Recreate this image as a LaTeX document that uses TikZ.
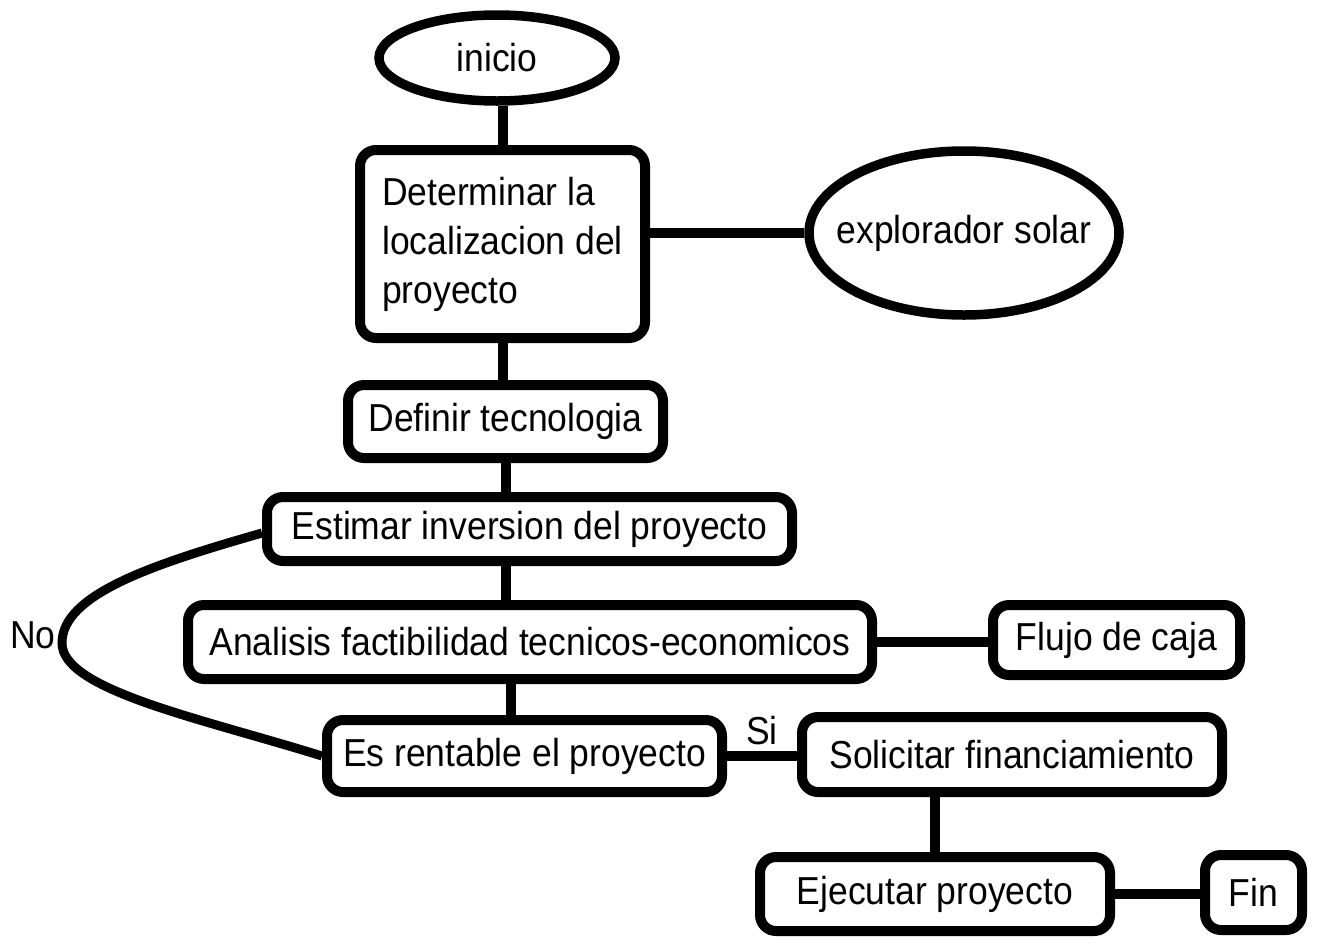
\documentclass[tikz,border=0pt]{standalone}
\usepackage{fontspec}
\setmainfont[FakeStretch=0.91]{Liberation Sans}
\usetikzlibrary{shapes.geometric}
\begin{document}
\begin{tikzpicture}[x=1pt,y=-1pt,
  every node/.style={font=\fontsize{39}{49}\selectfont, inner sep=0pt},
  box/.style={draw, line width=10pt, rounded corners=16pt, rectangle},
  oval/.style={draw, line width=9.5pt, ellipse},
  conn/.style={line width=10pt},
  lbl/.style={}]
\useasboundingbox (0,0) rectangle (1317,943);
\node[oval, minimum width=236pt, minimum height=86pt] (inicio) at (497,58) {\makebox[0pt]{inicio}};
\node[box, minimum width=285pt, minimum height=188pt, align=left] (det) at (502.5,244) {Determinar la\\localizacion del\\proyecto};
\node[oval, minimum width=310pt, minimum height=164pt] (expl) at (964,233) {\makebox[0pt]{explorador solar}};
\node[box, minimum width=315pt, minimum height=73pt] (def) at (505.5,421.5) {Definir tecnologia};
\node[box, minimum width=525pt, minimum height=64pt] (est) at (529.5,529) {Estimar inversion del proyecto};
\node[box, minimum width=684pt, minimum height=74pt] (ana) at (530,642) {Analisis factibilidad tecnicos-economicos};
\node[box, minimum width=247pt, minimum height=70pt] (flujo) at (1116.5,640) {Flujo de caja};
\node[box, minimum width=395pt, minimum height=72pt] (rent) at (524.5,756) {Es rentable el proyecto};
\node[box, minimum width=420pt, minimum height=75pt] (sol) at (1012,754.5) {Solicitar financiamiento};
\node[box, minimum width=350pt, minimum height=74pt] (eje) at (935,894) {Ejecutar proyecto};
\node[box, minimum width=97pt, minimum height=75pt] (fin) at (1253.5,892.5) {Fin};
\coordinate (nopt) at (62,643);
\node[lbl] (no) at (33,635) {No};
\node[lbl] (si) at (762,731) {Si};
\draw[conn] (inicio.south -| det.north) -- (det.north);
\draw[conn] (det.south) -- (det.south |- def.north);
\draw[conn] (expl.west) -- (expl.west -| det.east);
\draw[conn] (est.north -| def.south) -- (def.south);
\draw[conn] (est.south -| def.south) -- (ana.north -| def.south);
\draw[conn] ([xshift=-14pt]rent.north) -- ([xshift=-14pt]rent.north |- ana.south);
\draw[conn] (ana.east) -- (ana.east -| flujo.west);
\draw[conn] (rent.east) -- (rent.east -| sol.west);
\draw[conn] (eje.north) -- (eje.north |- sol.south);
\draw[conn] (eje.east) -- (eje.east -| fin.west);
\draw[line width=9pt] ([yshift=-4pt]est.west) .. controls (150,565) and (62,595) .. (nopt) .. controls (62,690) and (200,718) .. (rent.west);
\end{tikzpicture}
\end{document}
